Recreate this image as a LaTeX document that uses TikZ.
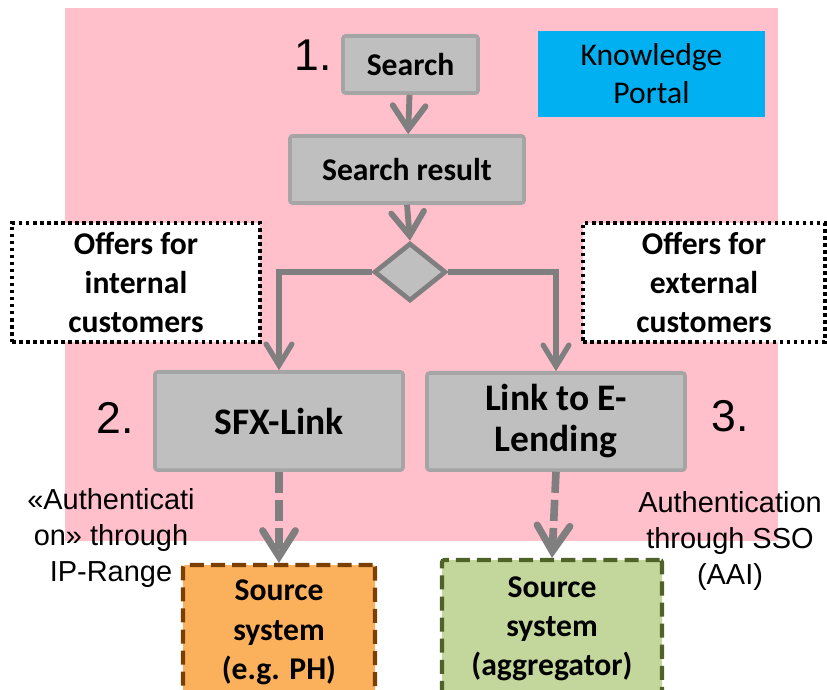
\documentclass[tikz,border=0pt]{standalone}
\usepackage{fontspec}
\setmainfont{Carlito}
\newfontfamily\arialf{Liberation Sans}
\usetikzlibrary{arrows.meta,shapes.geometric}
\definecolor{bgpink}{HTML}{FFC0CB}
\definecolor{boxgray}{HTML}{BFBFBF}
\definecolor{boxborder}{HTML}{A5A5A5}
\definecolor{linegray}{HTML}{7F7F7F}
\definecolor{kpblue}{HTML}{00B0F0}
\definecolor{srcorange}{HTML}{FBB05C}
\definecolor{srcbrown}{HTML}{7B3F00}
\definecolor{srcgreen}{HTML}{C3D69B}
\definecolor{srcolive}{HTML}{4F6228}
\tikzset{
  graybox/.style={draw=boxborder, fill=boxgray, line width=3pt, rounded corners=2pt,
    align=center, inner sep=0pt, font=\bfseries\fontsize{27}{33}\selectfont},
  bigbox/.style={graybox, font=\bfseries\fontsize{32}{35}\selectfont},
  offerbox/.style={draw=black, fill=white, line width=3pt, dash pattern=on 3pt off 3pt,
    align=center, inner sep=0pt, font=\bfseries\fontsize{27}{33}\selectfont},
  srcbox/.style={line width=3.5pt, dash pattern=on 12pt off 6pt, rounded corners=2pt,
    align=center, inner sep=0pt, font=\bfseries\fontsize{27}{33.5}\selectfont},
  flow/.style={draw=linegray, line width=5pt,
    -{Straight Barb[length=20pt,width=28pt,line width=5pt,line cap=round]}},
  branch/.style={draw=linegray, line width=4.5pt,
    -{Straight Barb[length=18pt,width=22pt,line width=4.5pt,line cap=round]}},
  dashflow/.style={draw=linegray, line width=6.5pt, dash pattern=on 18pt off 6pt,
    -{Straight Barb[length=22pt,width=28pt,line width=6pt,line cap=round]}},
  numlabel/.style={font=\arialf\fontsize{38}{40}\selectfont, inner sep=0pt},
  authlabel/.style={font=\arialf\fontsize{24.7}{31}\selectfont, align=center, inner sep=0pt},
}
\begin{document}
\begin{tikzpicture}[x=0.03cm,y=-0.03cm]
\useasboundingbox (0,0) rectangle (827,689);
\fill[bgpink] (65,8) rectangle (778,541);

\node[graybox, minimum width=135*0.03cm, minimum height=57*0.03cm] (search) at (410.5,64.5) {Search};
\node[graybox, minimum width=234*0.03cm, minimum height=67*0.03cm] (result) at (407,169.5) {Search result};
\node[diamond, draw=linegray, fill=boxgray, line width=4pt, inner sep=0pt,
      minimum width=72*0.03cm, minimum height=58*0.03cm] (dec) at (410,272) {};
\node[bigbox, minimum width=248*0.03cm, minimum height=98*0.03cm] (sfx) at (279,421) {SFX-Link};
\node[bigbox, minimum width=258*0.03cm, minimum height=97*0.03cm] (lend) at (556,421.5) {Link to E-\\Lending};
\node[offerbox, minimum width=248*0.03cm, minimum height=119*0.03cm] (offint) at (136,282.5) {Offers for\\internal\\customers};
\node[offerbox, minimum width=242*0.03cm, minimum height=119*0.03cm] (offext) at (704,282.5) {Offers for\\external\\customers};
\node[fill=kpblue, minimum width=227*0.03cm, minimum height=86*0.03cm, align=center, inner sep=0pt,
      font=\fontsize{27}{32.5}\selectfont] (kp) at (651.5,74) {\rule{0pt}{0pt}\raisebox{-2pt}{}Knowledge\\Portal};
\node[srcbox, draw=srcbrown, fill=srcorange, minimum width=192*0.03cm, minimum height=135*0.03cm] (src1) at (279,632.5) {Source\\system\\(e.g. PH)};
\node[srcbox, draw=srcolive, fill=srcgreen, minimum width=220*0.03cm, minimum height=138*0.03cm] (src2) at (552,629) {Source\\system\\(aggregator)};

\node[numlabel] (n1) at (313,55) {1.};
\node[numlabel] (n2) at (115,418) {2.};
\node[numlabel] (n3) at (730,416) {3.};
\node[authlabel] (a1) at (111,538) {«Authenticati\\on» through\\IP-Range};
\node[authlabel] (a2) at (730,541) {Authentication\\through SSO\\(AAI)};

\draw[flow] (search) -- (result);
\draw[flow] (result.south) -- (dec.north);
\draw[branch] (dec.west) -| (sfx.north);
\draw[branch] (dec.east) -| (lend.north);
\draw[dashflow] (sfx.south) -- (src1.north);
\draw[dashflow] (lend.south) -- (src2.north);
\end{tikzpicture}
\end{document}
